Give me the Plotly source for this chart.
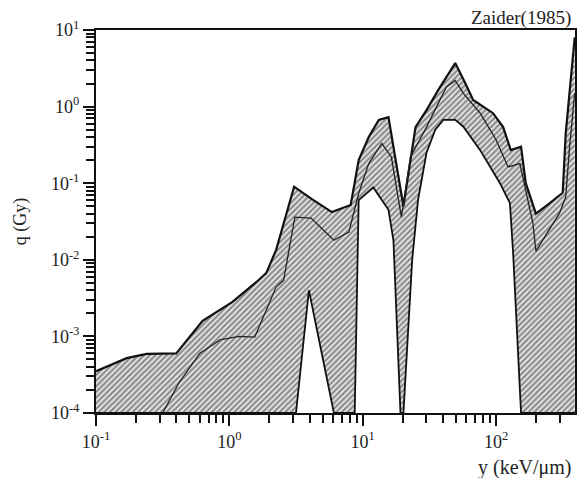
import plotly.graph_objects as go

# ---- data ----
upper_x = [0.1, 0.17, 0.24, 0.40, 0.63, 1.05, 1.59, 1.89, 2.24, 3.06, 4.16, 5.87, 8.13, 9.33,
           11.1, 13.2, 15.6, 20.2, 24.9, 30.1, 36.9, 49.4, 58.7, 67.3, 95.0, 113, 129, 154,
           167, 199, 253, 316, 333, 376, 389]
upper_y = [3.5e-4, 5.2e-4, 5.9e-4, 6.0e-4, 1.6e-3, 2.8e-3, 5.1e-3, 6.7e-3, 1.34e-2, 0.090, 0.062,
           0.042, 0.052, 0.20, 0.40, 0.67, 0.73, 0.050, 0.54, 0.90, 1.65, 3.7, 2.03, 1.22, 0.82,
           0.54, 0.27, 0.30, 0.10, 0.040, 0.055, 0.075, 0.45, 3.7, 8.0]

mid_x = [0.316, 0.42, 0.60, 0.85, 1.18, 1.55, 1.89, 2.24, 2.55, 2.80, 3.10, 4.10, 6.08, 7.87,
         9.33, 11.1, 13.9, 16.4, 19.5, 22.8, 30.1, 42.4, 49.4, 56.7, 76.0, 100, 123, 151, 167,
         189, 199, 253, 300, 333, 356, 389]
mid_y = [1.0e-4, 2.5e-4, 6.0e-4, 9.0e-4, 1.0e-3, 9.8e-4, 2.2e-3, 4.4e-3, 5.4e-3, 1.4e-2, 0.036,
         0.035, 0.018, 0.023, 0.074, 0.18, 0.33, 0.22, 0.036, 0.22, 0.54, 1.8, 2.2, 1.5, 0.82,
         0.37, 0.163, 0.18, 0.081, 0.030, 0.013, 0.025, 0.041, 0.066, 0.30, 1.5]

lower_x = [0.1, 3.16, 3.95, 6.08, 8.71, 9.33, 12.0, 15.6, 17.0, 19.2, 20.2, 23.5, 26.0, 30.1,
           35.0, 40.2, 49.4, 56.7, 76.0, 107, 127, 134, 154, 389]
lower_y = [1e-4, 1e-4, 4.0e-3, 1e-4, 1e-4, 0.060, 0.088, 0.045, 0.018, 1e-4, 1e-4, 0.010, 0.060,
           0.25, 0.50, 0.67, 0.67, 0.55, 0.27, 0.10, 0.055, 0.013, 1e-4, 1e-4]

x_tick_vals = [0.1, 1, 10, 100]
x_tick_text = ["10<sup>-1</sup>", "10<sup>0</sup>", "10<sup>1</sup>", "10<sup>2</sup>"]
y_tick_vals = [1e-4, 1e-3, 1e-2, 1e-1, 1, 10]
y_tick_text = ["10<sup>-4</sup>", "10<sup>-3</sup>", "10<sup>-2</sup>", "10<sup>-1</sup>",
               "10<sup>0</sup>", "10<sup>1</sup>"]

minor_vals = [k * 10.0 ** e for e in range(-5, 3) for k in range(2, 10)]

FONT = "Liberation Serif"

fig = go.Figure()

# hatched band (closed polygon: upper forward, lower backward)
band_x = upper_x + lower_x[::-1]
band_y = upper_y + lower_y[::-1]
fig.add_trace(go.Scatter(
    x=band_x, y=band_y, mode="lines", fill="toself",
    line=dict(width=0, color="rgba(0,0,0,0)"),
    fillcolor="rgba(255,255,255,0)",
    fillpattern=dict(shape="/", size=4, solidity=0.5, fgcolor="#2a2a2a", bgcolor="#e4e4e4"),
    hoverinfo="skip", showlegend=False))

fig.add_trace(go.Scatter(x=upper_x, y=upper_y, mode="lines",
                         line=dict(color="#111", width=2.2), showlegend=False))
fig.add_trace(go.Scatter(x=mid_x, y=mid_y, mode="lines",
                         line=dict(color="#222", width=1.3), showlegend=False))
fig.add_trace(go.Scatter(x=lower_x, y=lower_y, mode="lines",
                         line=dict(color="#111", width=1.8), showlegend=False))

axis_common = dict(
    type="log", showgrid=False, zeroline=False,
    showline=True, linecolor="#111", linewidth=2, mirror=True,
    ticks="outside", ticklen=11, tickwidth=2, tickcolor="#111",
    tickfont=dict(family=FONT, size=18, color="#222"),
    minor=dict(tickvals=minor_vals, ticks="outside", ticklen=8, tickwidth=1.5,
               tickcolor="#111", showgrid=False),
)

fig.update_xaxes(**axis_common, range=[-1, 2.592],
                 tickmode="array", tickvals=x_tick_vals, ticktext=x_tick_text)
fig.update_yaxes(**axis_common, range=[-4, 1],
                 tickmode="array", tickvals=y_tick_vals, ticktext=y_tick_text,
                 title=dict(text="q (Gy)", font=dict(family=FONT, size=18, color="#222"),
                            standoff=20))

fig.add_annotation(text="Zaider(1985)", xref="paper", yref="paper", x=1.0, y=1.0,
                   xanchor="right", yanchor="bottom", showarrow=False, yshift=-1, xshift=-2,
                   font=dict(family=FONT, size=19, color="#222"))
fig.add_annotation(text="y (keV/μm)", xref="paper", yref="paper", x=1.0, y=0.0,
                   xanchor="right", yanchor="top", showarrow=False, yshift=-41, xshift=-2,
                   font=dict(family=FONT, size=20, color="#222"))

fig.update_layout(
    width=580, height=478,
    margin=dict(l=96, r=3, t=30, b=65),
    paper_bgcolor="white", plot_bgcolor="white",
    font=dict(family=FONT, color="#222"),
)

fig.write_html("out.html", config={"displayModeBar": False},
               post_script="document.body.style.margin='0px';document.body.style.overflow='hidden';")
